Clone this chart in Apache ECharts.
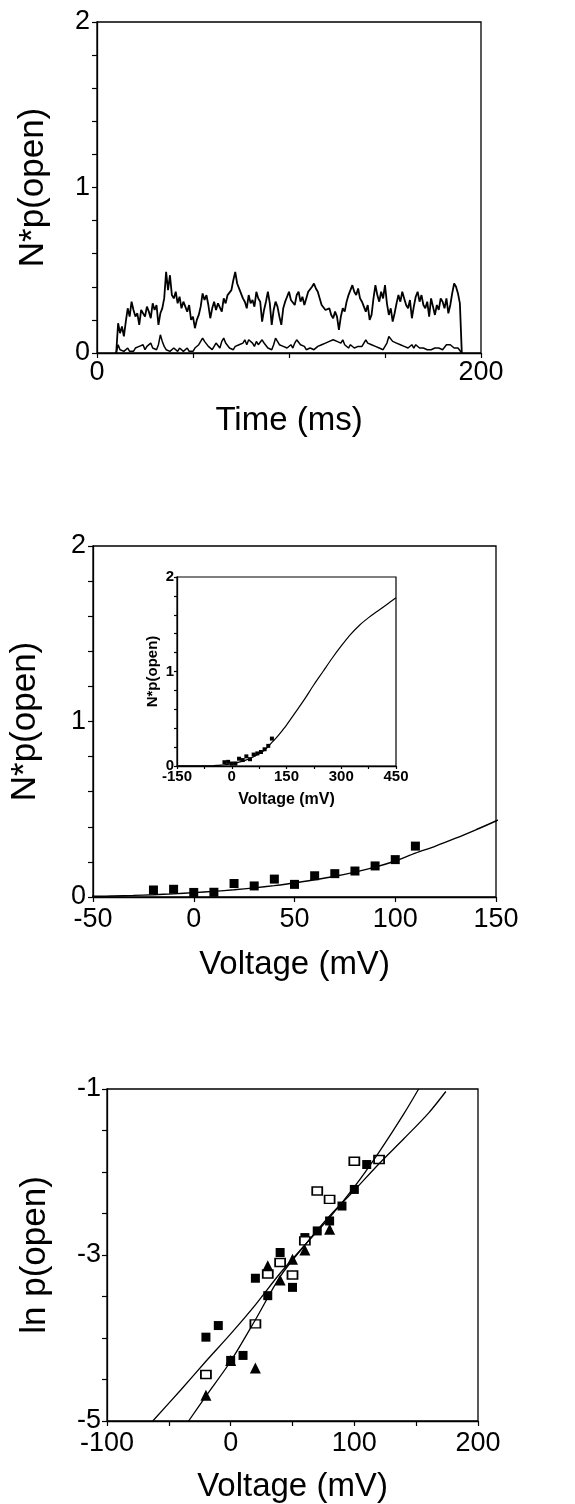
<!DOCTYPE html>
<html>
<head>
<meta charset="utf-8">
<script src="https://cdn.jsdelivr.net/npm/echarts@6/dist/echarts.min.js"></script>
<style>
  html, body { margin: 0; padding: 0; background: #fff; }
  #chart { width: 575px; height: 1504px; }
</style>
</head>
<body>
<div id="chart"></div>
<script>
// ---- panel 1: N*p(open) traces, one sample per ms starting at 10 ms ----
var traceStartMs = 10;
var traceStepMs = 1;
var traceUpper = [
  0.00, 0.18, 0.12, 0.16, 0.10, 0.19, 0.27, 0.22, 0.31, 0.26,
  0.22, 0.24, 0.17, 0.26, 0.27, 0.22, 0.28, 0.25, 0.21, 0.30,
  0.26, 0.29, 0.17, 0.24, 0.27, 0.33, 0.49, 0.38, 0.47, 0.35,
  0.33, 0.37, 0.30, 0.34, 0.27, 0.31, 0.28, 0.25, 0.29, 0.20,
  0.22, 0.15, 0.20, 0.23, 0.28, 0.36, 0.32, 0.35, 0.29, 0.21,
  0.27, 0.31, 0.26, 0.30, 0.29, 0.25, 0.33, 0.30, 0.35, 0.34,
  0.38, 0.44, 0.49, 0.42, 0.41, 0.36, 0.33, 0.31, 0.27, 0.35,
  0.30, 0.32, 0.28, 0.37, 0.33, 0.31, 0.19, 0.26, 0.31, 0.37,
  0.30, 0.17, 0.26, 0.31, 0.28, 0.22, 0.17, 0.27, 0.31, 0.34,
  0.37, 0.32, 0.33, 0.29, 0.35, 0.37, 0.31, 0.34, 0.29, 0.33,
  0.37, 0.36, 0.40, 0.42, 0.39, 0.37, 0.33, 0.29, 0.30, 0.26,
  0.25, 0.27, 0.23, 0.21, 0.25, 0.22, 0.14, 0.22, 0.27, 0.25,
  0.31, 0.35, 0.38, 0.41, 0.37, 0.35, 0.39, 0.33, 0.31, 0.28,
  0.25, 0.29, 0.20, 0.23, 0.33, 0.41, 0.35, 0.31, 0.37, 0.33,
  0.41, 0.30, 0.23, 0.27, 0.19, 0.24, 0.30, 0.35, 0.31, 0.37,
  0.33, 0.29, 0.27, 0.32, 0.21, 0.28, 0.34, 0.37, 0.31, 0.35,
  0.29, 0.27, 0.31, 0.22, 0.33, 0.28, 0.23, 0.29, 0.26, 0.33,
  0.31, 0.27, 0.33, 0.24, 0.29, 0.36, 0.42, 0.40, 0.36, 0.30,
  0.00
];
var traceLower = [
  0.00, 0.05, 0.02, 0.03, 0.01, 0.02, 0.03, 0.01, 0.02, 0.01,
  0.03, 0.02, 0.04, 0.03, 0.05, 0.02, 0.04, 0.05, 0.06, 0.03,
  0.04, 0.02, 0.05, 0.11, 0.07, 0.04, 0.02, 0.03, 0.01, 0.02,
  0.03, 0.02, 0.01, 0.03, 0.02, 0.01, 0.02, 0.03, 0.01, 0.02,
  0.01, 0.03, 0.02, 0.05, 0.04, 0.09, 0.07, 0.06, 0.04, 0.03,
  0.02, 0.04, 0.06, 0.05, 0.03, 0.07, 0.09, 0.06, 0.05, 0.03,
  0.02, 0.02, 0.04, 0.03, 0.05, 0.04, 0.06, 0.08, 0.05, 0.08,
  0.09, 0.06, 0.04, 0.07, 0.05, 0.05, 0.08, 0.06, 0.05, 0.03,
  0.04, 0.02, 0.05, 0.09, 0.07, 0.05, 0.06, 0.04, 0.05, 0.03,
  0.04, 0.05, 0.03, 0.06, 0.08, 0.07, 0.05, 0.06, 0.04, 0.02,
  0.02, 0.03, 0.02, 0.02, 0.03, 0.04, 0.03, 0.05, 0.04, 0.06,
  0.05, 0.07, 0.06, 0.08, 0.09, 0.07, 0.08, 0.06, 0.08, 0.05,
  0.04, 0.03, 0.05, 0.04, 0.03, 0.02, 0.04, 0.05, 0.04, 0.06,
  0.08, 0.06, 0.07, 0.05, 0.06, 0.04, 0.05, 0.03, 0.04, 0.02,
  0.02, 0.06, 0.10, 0.09, 0.07, 0.08, 0.06, 0.07, 0.05, 0.06,
  0.04, 0.05, 0.03, 0.04, 0.05, 0.03, 0.05, 0.04, 0.03, 0.02,
  0.03, 0.02, 0.02, 0.01, 0.02, 0.02, 0.03, 0.02, 0.03, 0.02,
  0.02, 0.03, 0.05, 0.04, 0.05, 0.04, 0.03, 0.02, 0.03, 0.02,
  0.00
];
var timeTickLabels = [0, 200];
var npoTickLabels = [0, 1, 2];

// ---- panel 2: N*p(open) vs voltage, with fitted curve (main + inset) ----
var fitVoltage = [-150, -100, -50, -40, -30, -20, -10, 0, 10, 20, 30, 40, 50, 60, 70, 80, 90, 100,
                  110, 120, 130, 140, 150, 175, 200, 225, 250, 275, 300, 325, 350, 375, 400, 425, 450];
var fitNpo = [0.001, 0.002, 0.004, 0.006, 0.009, 0.013, 0.018, 0.025, 0.032, 0.041, 0.052, 0.065, 0.080, 0.098, 0.118, 0.142, 0.170, 0.205,
              0.250, 0.290, 0.335, 0.383, 0.433, 0.570, 0.710, 0.860, 1.000, 1.140, 1.270, 1.390, 1.490, 1.570, 1.640, 1.710, 1.780];
var ptVoltage = [-20, -10, 0, 10, 20, 30, 40, 50, 60, 70, 80, 90, 100, 110];
var ptNpo = [0.040, 0.044, 0.026, 0.027, 0.077, 0.063, 0.102, 0.072, 0.121, 0.133, 0.148, 0.177, 0.213, 0.290];
var voltTickLabels2 = [-50, 0, 50, 100, 150];
var insetVoltTickLabels = [-150, 0, 150, 300, 450];

// ---- panel 3: ln p(open) vs voltage ----
var filledV = [-20, -10, 0, 10, 20, 30, 40, 50, 60, 70, 80, 90, 100, 110];
var filledLn = [-3.99, -3.85, -4.27, -4.21, -3.28, -3.49, -2.97, -3.39, -2.79, -2.71, -2.59, -2.41, -2.21, -1.91];
var openV = [-20, 20, 30, 40, 50, 60, 70, 80, 100, 120];
var openLn = [-4.44, -3.83, -3.23, -3.09, -3.24, -2.83, -2.23, -2.33, -1.87, -1.85];
var triV = [-20, 0, 20, 30, 40, 50, 60, 80];
var triLn = [-4.69, -4.27, -4.36, -3.13, -3.30, -3.05, -2.94, -2.69];
var lineAV = [-63, -40, -20, 0, 20, 40, 60, 80, 100, 120, 140, 152];
var lineALn = [-5.00, -4.62, -4.28, -3.95, -3.60, -3.22, -2.88, -2.55, -2.18, -1.76, -1.30, -1.00];
var lineBV = [-34, -20, 0, 20, 40, 60, 80, 100, 120, 140, 160, 174];
var lineBLn = [-5.00, -4.70, -4.28, -3.78, -3.26, -2.88, -2.53, -2.22, -1.90, -1.60, -1.29, -1.03];
var voltTickLabels3 = [-100, 0, 100, 200];
var lnTickLabels = [-5, -3, -1];

function pairs(xs, ys) {
  return xs.map(function (x, i) { return [x, ys[i]]; });
}
function traceData(vals) {
  return vals.map(function (v, i) { return [traceStartMs + i * traceStepMs, v]; });
}
// show a tick label only for the listed values
function onlyLabels(list) {
  return function (v) {
    for (var i = 0; i < list.length; i++) {
      if (Math.abs(v - list[i]) < 1e-6) return String(list[i]);
    }
    return '';
  };
}

var FONT = '"Liberation Sans", Arial, sans-serif';
var INK = '#000';

function xAx(grid, min, max, interval, labels, name, opts) {
  return {
    gridIndex: grid, type: 'value', min: min, max: max, interval: interval,
    name: name, nameLocation: 'middle', nameGap: opts.nameGap,
    nameTextStyle: { fontFamily: FONT, fontSize: opts.nameSize, color: INK, fontWeight: opts.weight || 'normal' },
    axisLine: { onZero: false, lineStyle: { color: '#000', width: 1.3 } },
    axisTick: { inside: false, length: opts.tickLen || 5, lineStyle: { color: '#000', width: 1.2 } },
    axisLabel: { formatter: onlyLabels(labels), margin: opts.labelMargin, fontFamily: FONT,
                 fontSize: opts.labelSize, color: INK, fontWeight: opts.weight || 'normal',
                 showMinLabel: true, showMaxLabel: true },
    splitLine: { show: false }
  };
}
function yAx(grid, min, max, interval, labels, name, opts) {
  var a = xAx(grid, min, max, interval, labels, name, opts);
  a.nameRotate = 90;
  return a;
}

var chart = echarts.init(document.getElementById('chart'));

var option = {
  backgroundColor: '#fff',
  animation: false,
  grid: [
    { left: 97, top: 22, width: 384, height: 331, show: true, borderColor: '#000', borderWidth: 1.3, backgroundColor: 'transparent' },
    { left: 92, top: 546, width: 404, height: 351, show: true, borderColor: '#000', borderWidth: 1.3, backgroundColor: 'transparent' },
    { left: 177, top: 577, width: 219, height: 189, show: true, borderColor: '#000', borderWidth: 1.2, backgroundColor: 'transparent' },
    { left: 107, top: 1089, width: 371, height: 332, show: true, borderColor: '#000', borderWidth: 1.3, backgroundColor: 'transparent' }
  ],
  xAxis: [
    xAx(0, 0, 200, 50, timeTickLabels, 'Time (ms)', { nameGap: 51, nameSize: 33, labelSize: 27, labelMargin: 6 }),
    xAx(1, -50, 150, 50, voltTickLabels2, 'Voltage (mV)', { nameGap: 51, nameSize: 33, labelSize: 27, labelMargin: 9 }),
    xAx(2, -150, 450, 75, insetVoltTickLabels, 'Voltage (mV)', { nameGap: 26, nameSize: 16, labelSize: 15, labelMargin: 3, weight: 'bold', tickLen: 3 }),
    xAx(3, -100, 200, 50, voltTickLabels3, 'Voltage (mV)', { nameGap: 49, nameSize: 33, labelSize: 27, labelMargin: 9 })
  ],
  yAxis: [
    yAx(0, 0, 2, 0.2, npoTickLabels, 'N*p(open)', { nameGap: 46, nameSize: 35, labelSize: 27, labelMargin: 7 }),
    yAx(1, 0, 2, 0.2, npoTickLabels, 'N*p(open)', { nameGap: 50, nameSize: 35, labelSize: 27, labelMargin: 7 }),
    yAx(2, 0, 2, 0.2, npoTickLabels, 'N*p(open)', { nameGap: 17, nameSize: 15, labelSize: 15, labelMargin: 3, weight: 'bold', tickLen: 3 }),
    yAx(3, -5, -1, 0.5, lnTickLabels, 'ln p(open)', { nameGap: 54, nameSize: 35, labelSize: 27, labelMargin: 6 })
  ],
  series: [
    { name: 'upper trace', type: 'line', xAxisIndex: 0, yAxisIndex: 0, data: traceData(traceUpper),
      showSymbol: false, lineStyle: { color: INK, width: 1.8 } },
    { name: 'lower trace', type: 'line', xAxisIndex: 0, yAxisIndex: 0, data: traceData(traceLower),
      showSymbol: false, lineStyle: { color: INK, width: 1.5 } },

    { name: 'fit', type: 'line', xAxisIndex: 1, yAxisIndex: 1, data: pairs(fitVoltage, fitNpo),
      showSymbol: false, smooth: 0.3, lineStyle: { color: INK, width: 1.4 } },
    { name: 'points', type: 'scatter', xAxisIndex: 1, yAxisIndex: 1, data: pairs(ptVoltage, ptNpo),
      symbol: 'rect', symbolSize: 9, itemStyle: { color: INK, opacity: 1 } },

    { name: 'inset fit', type: 'line', xAxisIndex: 2, yAxisIndex: 2, data: pairs(fitVoltage, fitNpo),
      showSymbol: false, smooth: 0.3, lineStyle: { color: INK, width: 1.2 } },
    { name: 'inset points', type: 'scatter', xAxisIndex: 2, yAxisIndex: 2, data: pairs(ptVoltage, ptNpo),
      symbol: 'rect', symbolSize: 4, itemStyle: { color: INK, opacity: 1 } },

    { name: 'fit A', type: 'line', xAxisIndex: 3, yAxisIndex: 3, data: pairs(lineAV, lineALn),
      showSymbol: false, smooth: 0.3, lineStyle: { color: INK, width: 1.3 } },
    { name: 'fit B', type: 'line', xAxisIndex: 3, yAxisIndex: 3, data: pairs(lineBV, lineBLn),
      showSymbol: false, smooth: 0.3, lineStyle: { color: INK, width: 1.3 } },
    { name: 'filled', type: 'scatter', xAxisIndex: 3, yAxisIndex: 3, data: pairs(filledV, filledLn),
      symbol: 'rect', symbolSize: 9, itemStyle: { color: INK, opacity: 1 } },
    { name: 'open', type: 'scatter', xAxisIndex: 3, yAxisIndex: 3, data: pairs(openV, openLn),
      symbol: 'rect', symbolSize: [10, 8], itemStyle: { color: '#fff', borderColor: INK, borderWidth: 1.6, opacity: 1 } },
    { name: 'triangle', type: 'scatter', xAxisIndex: 3, yAxisIndex: 3, data: pairs(triV, triLn),
      symbol: 'triangle', symbolSize: 11, itemStyle: { color: INK, opacity: 1 } }
  ]
};

chart.setOption(option);
</script>
</body>
</html>
